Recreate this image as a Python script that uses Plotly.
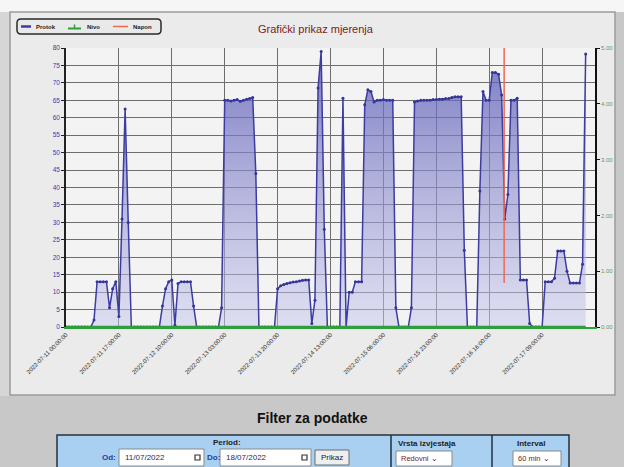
import plotly.graph_objects as go

# ---------------- data ----------------
protok = [
    0, 0, 0, 0, 0, 0, 0, 0, 0, 2,
    13, 13, 13, 13, 5.5, 11, 13, 3, 31, 62.5,
    30, 0, 0, 0, 0, 0, 0, 0, 0, 0,
    0, 6, 11, 13, 13.5, 0.5, 12.5, 13, 13, 13,
    13, 6, 0, 0, 0, 0, 0, 0, 0, 0,
    5.5, 65, 65, 64.8, 65, 65.2, 64.7, 65, 65.3, 65.5,
    65.8, 44, 0, 0, 0, 0, 0, 0, 11, 11.8,
    12.2, 12.5, 12.7, 12.9, 13, 13.2, 13.4, 13.5, 13.5, 1,
    7.7, 68.5, 79, 28, 0, 0, 0, 0, 0, 65.6,
    0, 10, 10, 13, 13, 13, 63.7, 68, 67.5, 64.5,
    65, 65, 65.2, 65, 65, 65, 5.5, 0, 0, 0,
    0, 5.5, 64.5, 64.8, 65, 65, 65, 65, 65.2, 65.2,
    65.3, 65.3, 65.5, 65.5, 65.8, 66, 66, 66, 22, 0,
    0, 0, 0, 39, 67.5, 65, 65, 73, 73, 72.5,
    66.5, 31, 38, 65, 65, 65.6, 13.5, 13.5, 13.5, 1,
    0, 0, 0, 0, 13, 13, 13, 14, 21.8, 21.8,
    21.8, 16, 12.6, 12.6, 12.6, 12.6, 18, 78.3,
]
hours = list(range(len(protok)))
nivo = [0.0] * len(protok)
napon_x = [140.8, 140.8]
napon_y = [80, 12.6]

tick_pos = [0, 17, 34, 51, 68, 85, 102, 119, 136, 153]
tick_labels = [
    "2022-07-11 00:00:00", "2022-07-11 17:00:00", "2022-07-12 10:00:00",
    "2022-07-13 03:00:00", "2022-07-13 20:00:00", "2022-07-14 13:00:00",
    "2022-07-15 06:00:00", "2022-07-15 23:00:00", "2022-07-16 16:00:00",
    "2022-07-17 09:00:00",
]
y_ticks = [0, 5, 10, 15, 20, 25, 30, 35, 40, 45, 50, 55, 60, 65, 70, 75, 80]
y2_ticks = [0, 1, 2, 3, 4, 5]

FONT = "Arial, 'Liberation Sans', sans-serif"
W, H = 624, 467
L, R, T, B = 66, 595, 48, 327


def X(p):
    return (p - L) / (R - L)


def Y(p):
    return (B - p) / (B - T)


fig = go.Figure()

fig.add_trace(go.Scatter(
    x=hours, y=protok, name="Protok", mode="lines+markers",
    line=dict(color="#3c3ca2", width=1.5),
    marker=dict(size=3, color="#34349a"),
    fill="tozeroy",
    fillgradient=dict(type="vertical",
                      colorscale=[[0, "rgba(200,200,238,0.5)"],
                                  [1, "rgba(88,88,180,0.78)"]]),
    showlegend=False,
))
fig.add_trace(go.Scatter(
    x=hours, y=nivo, name="Nivo", mode="lines", yaxis="y2",
    line=dict(color="#2f9e3c", width=2.5), showlegend=False,
))
fig.add_trace(go.Scatter(
    x=napon_x, y=napon_y, name="Napon", mode="lines",
    line=dict(color="#ec6a50", width=1.5), showlegend=False,
))

shapes = []
# page background pieces
shapes.append(dict(type="rect", xref="paper", yref="paper", layer="below",
                   x0=X(0), x1=X(W), y0=Y(12), y1=Y(0),
                   fillcolor="#f6f6f6", line=dict(width=0)))
shapes.append(dict(type="rect", xref="paper", yref="paper", layer="below",
                   x0=X(0), x1=X(10), y0=Y(396), y1=Y(12),
                   fillcolor="#d6d6d6", line=dict(width=0)))
shapes.append(dict(type="rect", xref="paper", yref="paper", layer="below",
                   x0=X(10), x1=X(615), y0=Y(395), y1=Y(12),
                   fillcolor="#ebebeb", line=dict(color="#9c9c9c", width=1.5)))
shapes.append(dict(type="rect", xref="paper", yref="paper", layer="below",
                   x0=0, x1=1, y0=0, y1=1,
                   fillcolor="#f3f3f3", line=dict(width=0)))


def rrect(x0, y0, x1, y1, r):
    return (f"M {X(x0+r)},{Y(y0)} L {X(x1-r)},{Y(y0)} Q {X(x1)},{Y(y0)} {X(x1)},{Y(y0+r)} "
            f"L {X(x1)},{Y(y1-r)} Q {X(x1)},{Y(y1)} {X(x1-r)},{Y(y1)} "
            f"L {X(x0+r)},{Y(y1)} Q {X(x0)},{Y(y1)} {X(x0)},{Y(y1-r)} "
            f"L {X(x0)},{Y(y0+r)} Q {X(x0)},{Y(y0)} {X(x0+r)},{Y(y0)} Z")


# custom legend
shapes.append(dict(type="path", xref="paper", yref="paper", path=rrect(17, 19, 161, 34, 4),
                   fillcolor="#e9e9e9", line=dict(color="#2a2a2a", width=1.5)))
shapes.append(dict(type="line", xref="paper", yref="paper", x0=X(21), x1=X(31),
                   y0=Y(26.5), y1=Y(26.5), line=dict(color="#3c3ca2", width=2.5)))
shapes.append(dict(type="line", xref="paper", yref="paper", x0=X(68), x1=X(81),
                   y0=Y(28.5), y1=Y(28.5), line=dict(color="#2f9e3c", width=2)))
shapes.append(dict(type="line", xref="paper", yref="paper", x0=X(74.5), x1=X(74.5),
                   y0=Y(28.5), y1=Y(24.5), line=dict(color="#2f9e3c", width=1.5)))
shapes.append(dict(type="line", xref="paper", yref="paper", x0=X(113), x1=X(128),
                   y0=Y(26.5), y1=Y(26.5), line=dict(color="#ec6a50", width=1.5)))

# filter table
tb_top, tb_bot = 435, 472
shapes.append(dict(type="rect", xref="paper", yref="paper",
                   x0=X(57), x1=X(569), y0=Y(tb_bot), y1=Y(tb_top),
                   fillcolor="#a9d0f0", line=dict(color="#263040", width=1.5)))
for dx in (391, 492):
    shapes.append(dict(type="line", xref="paper", yref="paper", x0=X(dx), x1=X(dx),
                       y0=Y(tb_bot), y1=Y(tb_top), line=dict(color="#263040", width=1.5)))
for (a, b) in ((119, 204), (220, 311)):
    shapes.append(dict(type="rect", xref="paper", yref="paper",
                       x0=X(a), x1=X(b), y0=Y(466), y1=Y(449),
                       fillcolor="#ffffff", line=dict(color="#8a8a8a", width=1)))
    shapes.append(dict(type="rect", xref="paper", yref="paper",
                       x0=X(b - 9), x1=X(b - 4), y0=Y(460), y1=Y(455),
                       fillcolor="#ffffff", line=dict(color="#333333", width=1.2)))
shapes.append(dict(type="rect", xref="paper", yref="paper",
                   x0=X(315), x1=X(349), y0=Y(465), y1=Y(450),
                   fillcolor="#efefef", line=dict(color="#6a6a6a", width=1)))
for (a, b) in ((396, 452), (513, 561)):
    shapes.append(dict(type="rect", xref="paper", yref="paper",
                       x0=X(a), x1=X(b), y0=Y(466), y1=Y(451),
                       fillcolor="#ffffff", line=dict(color="#8a8a8a", width=1)))

annotations = []


def txt(s, x, y, size, color="#222", bold=False, anchor="center"):
    annotations.append(dict(
        text=f"<b>{s}</b>" if bold else s, x=X(x), y=Y(y), xref="paper", yref="paper",
        xanchor=anchor, yanchor="middle", showarrow=False,
        font=dict(family=FONT, size=size, color=color)))


txt("Grafički prikaz mjerenja", 316, 29, 11, "#7a1c1c")
txt("Protok", 34, 26.5, 6, "#222", True, "left")
txt("Nivo", 85, 26.5, 6, "#222", True, "left")
txt("Napon", 131, 26.5, 6, "#222", True, "left")

txt("Filter za podatke", 312, 418, 14, "#111", True)
txt("Period:", 227, 442, 8, "#222", True)
txt("Od:", 118, 457.5, 8, "#1f3fa8", True, "right")
txt("11/07/2022", 123, 457.5, 8, "#2a2a5a", False, "left")
txt("Do:", 205, 457.5, 8, "#1f3fa8", True, "left")
txt("18/07/2022", 224, 457.5, 8, "#2a2a5a", False, "left")
txt("Prikaz", 332, 457.5, 8, "#222")
txt("Vrsta izvjestaja", 396, 443, 8, "#222", True, "left")
txt("Redovni ⌄", 399, 458.5, 7.5, "#7a2020", False, "left")
txt("Interval", 531, 443, 8, "#222", True)
txt("60 min ⌄", 516, 458.5, 7.5, "#7a2020", False, "left")

fig.update_layout(
    width=W, height=H,
    margin=dict(l=L, r=W - R, t=T, b=H - B, pad=0),
    paper_bgcolor="#c8c8c8",
    plot_bgcolor="#f3f3f3",
    font=dict(family=FONT, size=7, color="#333"),
    showlegend=False,
    shapes=shapes,
    annotations=annotations,
    xaxis=dict(
        range=[0, 170], tickmode="array", tickvals=tick_pos, ticktext=tick_labels,
        tickangle=-45, tickfont=dict(size=6, color="#2a2a2a"),
        showgrid=True, gridcolor="#6e6e6e", gridwidth=1,
        showline=True, linecolor="#2f9e3c", linewidth=2,
        zeroline=False, ticks="",
    ),
    yaxis=dict(
        range=[0, 80], tickmode="array", tickvals=y_ticks, ticksuffix=" l/s",
        tickfont=dict(size=6.5, color="#3a3ab0"),
        showgrid=True, gridcolor="#6e6e6e", gridwidth=1,
        showline=True, linecolor="#222", linewidth=1.5,
        ticks="outside", ticklen=3, tickcolor="#222", zeroline=False,
    ),
    yaxis2=dict(
        range=[0, 5], overlaying="y", side="right", tickmode="array",
        tickvals=y2_ticks, tickformat=".2f",
        tickfont=dict(size=6, color="#5a9a70"),
        showgrid=False, showline=True, linecolor="#111", linewidth=1.5,
        ticks="outside", ticklen=3, tickcolor="#111", zeroline=False,
    ),
)

fig.write_html(
    "out.html",
    config={"displayModeBar": False},
    post_script="document.body.style.margin='0';document.body.style.overflow='hidden';",
)
